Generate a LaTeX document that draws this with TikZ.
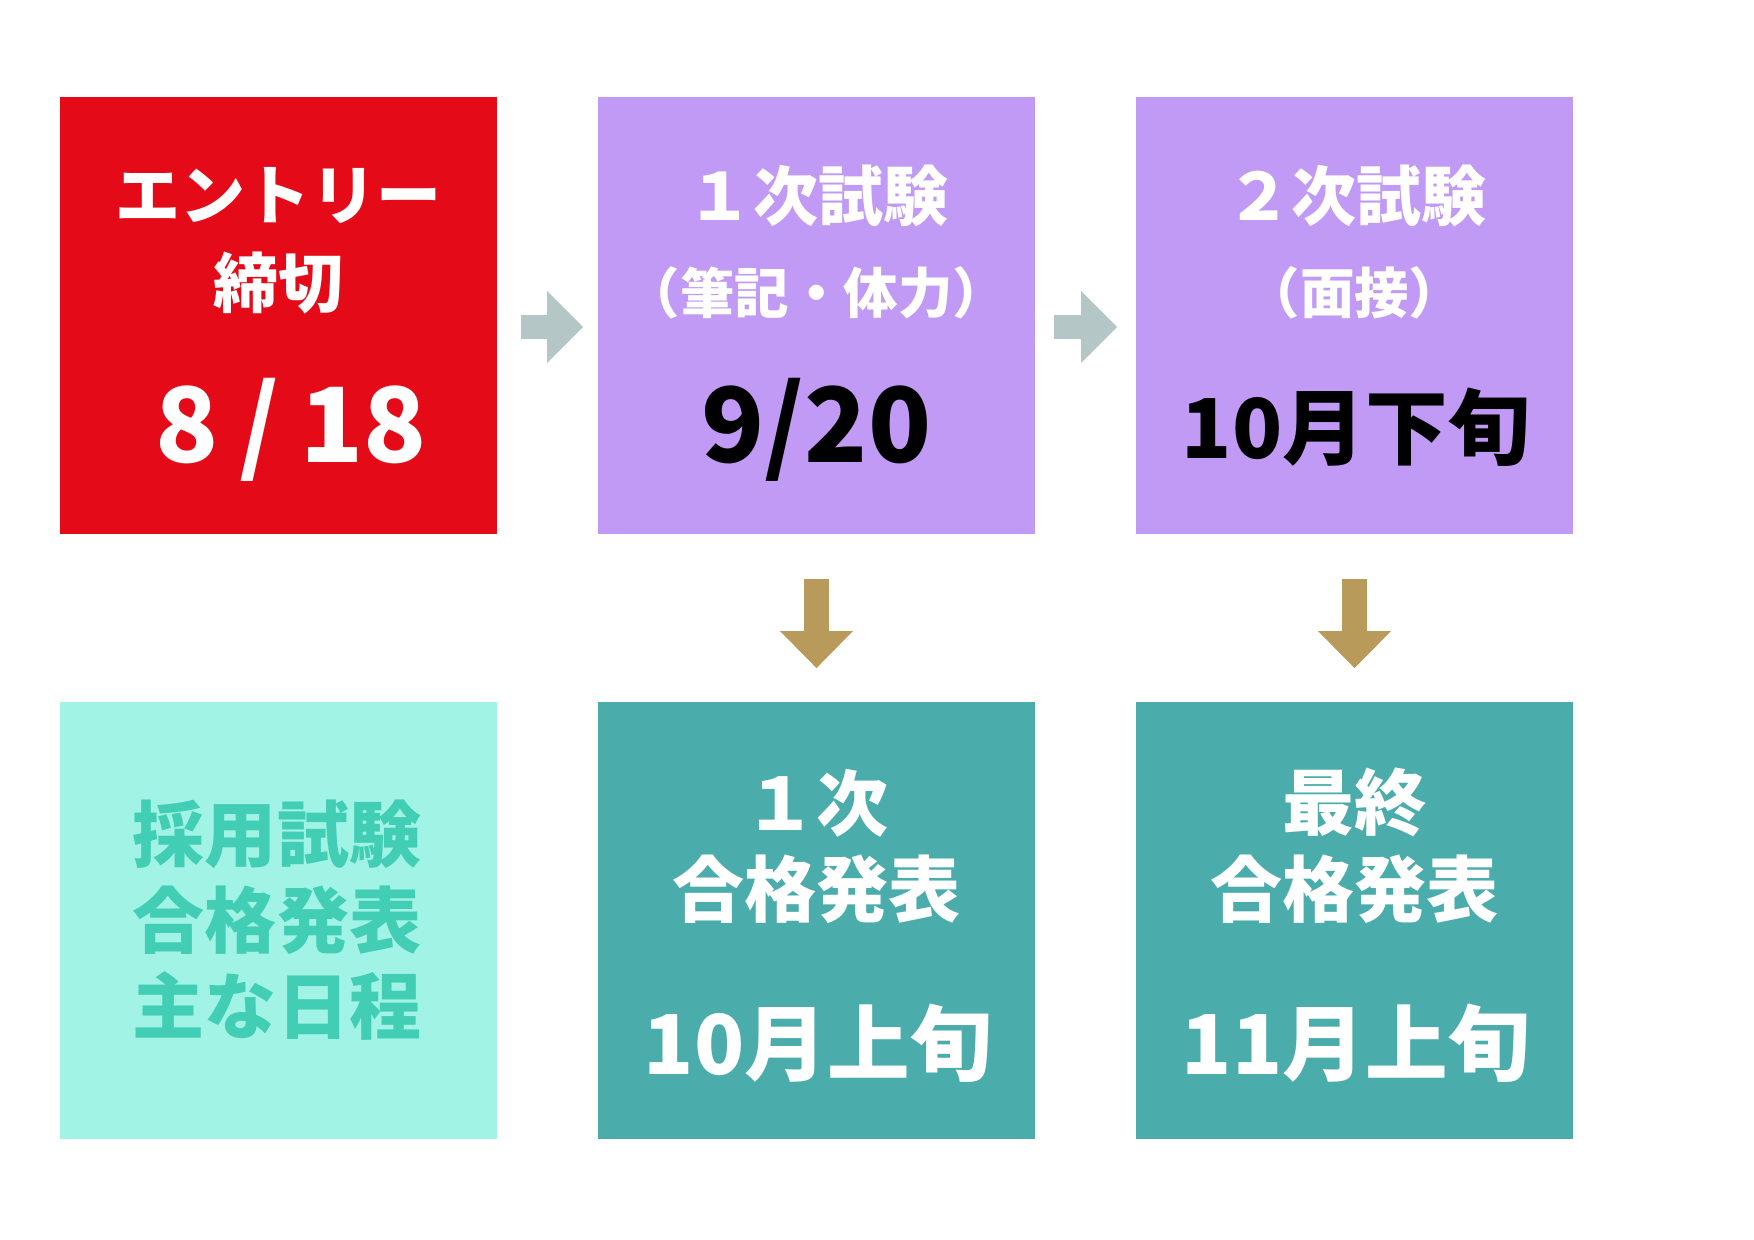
\documentclass[tikz,border=0pt]{standalone}
\usepackage{fontspec}
\setmainfont{Noto Sans CJK JP}
\usetikzlibrary{arrows.meta}

\definecolor{entryred}{HTML}{E50A17}
\definecolor{exampurple}{HTML}{C09AF5}
\definecolor{titleaqua}{HTML}{A1F3E6}
\definecolor{titletext}{HTML}{42CDB5}
\definecolor{passteal}{HTML}{4BACAC}
\definecolor{arrowgray}{HTML}{B5C6C6}
\definecolor{arrowgold}{HTML}{B89A5A}

\tikzset{
  stepbox/.style={minimum width=8.74cm, minimum height=8.74cm, inner sep=0pt, outer sep=0pt},
  headtxt/.style={font=\bfseries\fontsize{37}{37}\selectfont, text=white, inner sep=0pt},
  notetxt/.style={font=\bfseries\fontsize{31}{31}\selectfont, text=white, inner sep=0pt},
  datetxt/.style={font=\bfseries\fontsize{59}{59}\selectfont, inner sep=0pt},
  monthtxt/.style={font=\bfseries\fontsize{47}{47}\selectfont, inner sep=0pt},
  bigtxt/.style={font=\bfseries\fontsize{41}{41}\selectfont, inner sep=0pt},
  nextarrow/.style={line width=0.5cm, draw=arrowgray, -{Triangle[width=1.44cm, length=0.72cm, line width=0pt, fill=arrowgray]}},
  downarrow/.style={line width=0.5cm, draw=arrowgold, shorten <=0.9cm, shorten >=0.68cm, -{Triangle[width=1.46cm, length=0.74cm, line width=0pt, fill=arrowgold]}}
}

\begin{document}
\begin{tikzpicture}[x=0.02cm, y=-0.02cm]
  \useasboundingbox (0,0) rectangle (1754,1240);

  % upper row
  \node[stepbox, fill=entryred] (entry) at (278.5, 315.5) {};
  \node[stepbox, fill=exampurple] (exam1) at (816.5, 315.5) {};
  \node[stepbox, fill=exampurple] (exam2) at (1354.5, 315.5) {};
  % lower row
  \node[stepbox, fill=titleaqua] (title) at (278.5, 920.5) {};
  \node[stepbox, fill=passteal] (pass1) at (816.5, 920.5) {};
  \node[stepbox, fill=passteal] (pass2) at (1354.5, 920.5) {};

  \node[headtxt] (entryhead) at (278.5, 196) {エントリー};
  \node[headtxt] (entrysub) at (278.5, 283) {締切};
  \node[datetxt, text=white] (entrydate) at (291, 430) {8\hspace{0.2em}/\hspace{0.2em}18};

  \node[headtxt] (exam1head) at (818, 196) {１次試験};
  \node[notetxt] (exam1sub) at (816.5, 293) {（筆記・体力）};
  \node[datetxt, text=black] (exam1date) at (816.5, 430) {9/20};

  \node[headtxt] (exam2head) at (1356, 196) {２次試験};
  \node[notetxt] (exam2sub) at (1354.5, 293) {（面接）};
  \node[monthtxt, text=black] (exam2date) at (1356, 427) {10月下旬};

  \node[bigtxt, text=titletext, align=center] (titletxt) at (277, 920) {採用試験\\[0.28cm]合格発表\\[0.28cm]主な日程};

  \node[bigtxt, text=white] (pass1head) at (816.5, 803) {１次};
  \node[bigtxt, text=white] (pass1sub) at (816.5, 889) {合格発表};
  \node[monthtxt, text=white] (pass1date) at (818, 1043) {10月上旬};

  \node[bigtxt, text=white] (pass2head) at (1354.5, 803) {最終};
  \node[bigtxt, text=white] (pass2sub) at (1354.5, 889) {合格発表};
  \node[monthtxt, text=white] (pass2date) at (1356, 1043) {11月上旬};

  \draw[nextarrow, shorten <=0.48cm, shorten >=0.3cm] ([yshift=-0.23cm]entry.east) -- ([yshift=-0.23cm]exam1.west);
  \draw[nextarrow, shorten <=0.38cm, shorten >=0.38cm] ([yshift=-0.23cm]exam1.east) -- ([yshift=-0.23cm]exam2.west);
  \draw[downarrow] (exam1.south) -- (pass1.north);
  \draw[downarrow] (exam2.south) -- (pass2.north);
\end{tikzpicture}
\end{document}
